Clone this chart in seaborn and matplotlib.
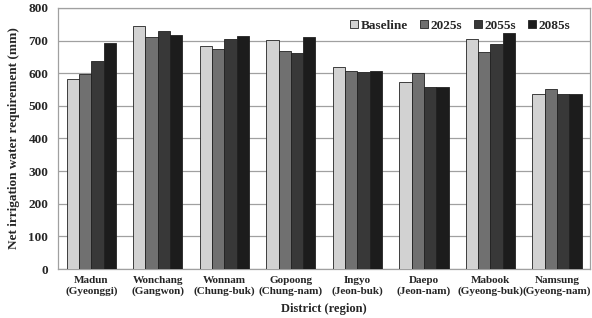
import pandas as pd
import numpy as np
import seaborn as sns
import matplotlib.pyplot as plt

# Districts and periods
districts = ['Madun\n(Gyeonggi)', 'Wonchang\n(Gangwon)', 'Wonnam\n(Chung-buk)', 'Gopoong\n(Chung-nam)',
             'Ingyo\n(Jeon-buk)', 'Daepo\n(Jeon-nam)', 'Mabook\n(Gyeong-buk)', 'Namsung\n(Gyeong-nam)']
periods = ['Baseline', '2025s', '2055s', '2085s']

baseline = [583, 744, 684, 702, 619, 572, 704, 537]
s2025 = [598, 710, 675, 667, 608, 601, 664, 552]
s2055 = [637, 728, 704, 662, 604, 559, 690, 537]
s2085 = [693, 716, 714, 710, 608, 559, 724, 535]

colors = ['#d2d2d2', '#707070', '#383838', '#1c1c1c']

# Long-form table for seaborn
df = pd.DataFrame({'District': districts * 4,
                   'Period': np.repeat(periods, len(districts)),
                   'NIR': baseline + s2025 + s2055 + s2085})

sns.set_style('white')
plt.rcParams['font.family'] = ['Liberation Serif', 'DejaVu Serif']
plt.rcParams['font.weight'] = 'bold'

fig = plt.figure(figsize=(5.92, 3.18), dpi=100)
ax = fig.add_axes([0.098, 0.154, 0.899, 0.821])

sns.barplot(data=df, x='District', y='NIR', hue='Period', palette=colors,
            width=0.74, edgecolor='#222222', linewidth=0.6, ax=ax, zorder=3)

ax.set_ylim(0, 800)
ax.set_yticks(range(0, 801, 100))
ax.set_xlim(-0.5, len(districts) - 0.5)
ax.yaxis.grid(True, color='#a0a0a0', linewidth=0.9, zorder=0)
ax.set_axisbelow(True)
for s in ax.spines.values():
    s.set_color('#a0a0a0')
    s.set_linewidth(0.9)

# ticks at category boundaries
ax.set_xticks(np.arange(-0.5, len(districts), 1), minor=True)
ax.tick_params(axis='x', which='minor', length=4, color='#a0a0a0', width=0.9)
ax.tick_params(axis='x', which='major', length=0, labelsize=8, pad=5)
ax.tick_params(axis='y', length=0, labelsize=9.5, pad=7)
for lab in ax.get_xticklabels() + ax.get_yticklabels():
    lab.set_fontweight('bold')

ax.set_xlabel('District (region)', fontsize=9, fontweight='bold', labelpad=5)
ax.set_ylabel('Net irrigation water requirement (mm)', fontsize=9.5, fontweight='bold', labelpad=6)

ax.legend(loc='upper right', ncol=4, frameon=False,
          handlelength=0.6, handleheight=0.6, handletextpad=0.2, columnspacing=0.9,
          bbox_to_anchor=(0.985, 1.0), prop={'weight': 'bold', 'size': 9.5})

fig.savefig('out.png', dpi=100)
